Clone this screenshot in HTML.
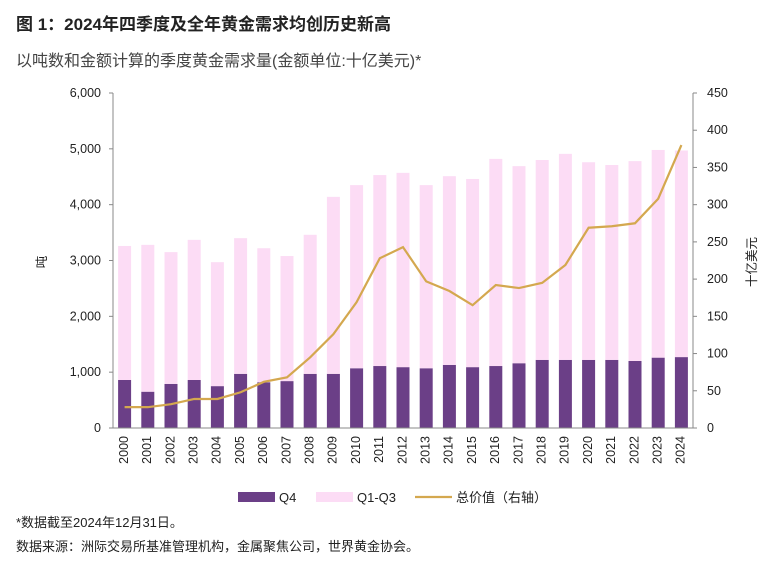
<!DOCTYPE html>
<html><head><meta charset="utf-8">
<style>
body{margin:0;background:#fff;font-family:"Liberation Sans","Noto Sans CJK SC",sans-serif;}
#wrap{position:relative;width:778px;height:576px;overflow:hidden;}
.t{position:absolute;white-space:nowrap;color:#222;}
</style></head><body>
<div id="wrap">
<div class="t" style="left:16px;top:10px;font-size:17px;font-weight:bold;">图 1：2024年四季度及全年黄金需求均创历史新高</div>
<div class="t" style="left:16px;top:47px;font-size:16px;color:#444;">以吨数和金额计算的季度黄金需求量(金额单位:十亿美元)*</div>
<svg id="chart" width="778" height="576" style="position:absolute;left:0;top:0"></svg>
<div class="t" style="left:16px;top:512px;font-size:13px;">*数据截至2024年12月31日。</div>
<div class="t" style="left:16px;top:536px;font-size:13px;">数据来源：洲际交易所基准管理机构，金属聚焦公司，世界黄金协会。</div>
</div>
<script>
const years=["2000","2001","2002","2003","2004","2005","2006","2007","2008","2009","2010","2011","2012","2013","2014","2015","2016","2017","2018","2019","2020","2021","2022","2023","2024"];
const q4=[860,650,790,860,750,970,820,840,970,970,1070,1110,1090,1070,1130,1090,1110,1160,1220,1220,1220,1220,1200,1260,1270];
const q1q3=[2400,2630,2360,2510,2220,2430,2400,2240,2490,3170,3280,3420,3480,3280,3380,3370,3710,3530,3580,3690,3540,3490,3580,3720,3700];
const value=[28,28,32,39,39,48,62,68,95,126,169,228,243,197,184,165,192,188,195,219,269,271,275,308,380];
const leftTicks=[0,1000,2000,3000,4000,5000,6000];
const rightTicks=[0,50,100,150,200,250,300,350,400,450];
const svg=document.getElementById('chart');const NS="http://www.w3.org/2000/svg";
const X0=113,X1=693,Y0=428,Y1=93;
const yL=v=>Y0-(v/6000)*(Y0-Y1);
const yR=v=>Y0-(v/450)*(Y0-Y1);
const step=(X1-X0)/years.length;
const xC=i=>X0+step*(i+0.5);
function mk(t,a,txt){const e=document.createElementNS(NS,t);for(const k in a)e.setAttribute(k,a[k]);if(txt!==undefined)e.textContent=txt;svg.appendChild(e);return e;}
const bw=13;
years.forEach((y,i)=>{
 const b=mk('rect',{x:xC(i)-bw/2,y:yL(q4[i]),width:bw,height:Y0-yL(q4[i]),fill:'#6b3f87'});
 
 
 const p=mk('rect',{x:xC(i)-bw/2,y:yL(q4[i]+q1q3[i]),width:bw,height:yL(q4[i])-yL(q4[i]+q1q3[i]),fill:'#fcdcf5'});
 
 
 const l=mk('text',{x:0,y:0,'font-size':12.5,fill:'#222','text-anchor':'end','dominant-baseline':'middle',transform:`translate(${xC(i)},${Y0+8}) rotate(-90)`},y);
 
 
});
const line=mk('polyline',{points:value.map((v,i)=>xC(i)+','+yR(v)).join(' '),fill:'none',stroke:'#d4a84f','stroke-width':2.2});


mk('line',{x1:X0,y1:Y1,x2:X0,y2:Y0,stroke:'#888'});
mk('line',{x1:X1,y1:Y1,x2:X1,y2:Y0,stroke:'#888'});
mk('line',{x1:X0,y1:Y0,x2:X1,y2:Y0,stroke:'#888'});
leftTicks.forEach(v=>{mk('line',{x1:X0-4,y1:yL(v),x2:X0,y2:yL(v),stroke:'#888'});
 const t=mk('text',{x:X0-12,y:yL(v)+4,'font-size':12.5,fill:'#222','text-anchor':'end'},v.toLocaleString('en-US'));
 
 });
rightTicks.forEach(v=>{mk('line',{x1:X1,y1:yR(v),x2:X1+4,y2:yR(v),stroke:'#888'});
 const t=mk('text',{x:X1+14,y:yR(v)+4,'font-size':12.5,fill:'#222'},String(v));
 
 });
const yt=mk('text',{x:0,y:0,'font-size':12.5,fill:'#222','text-anchor':'middle',transform:'translate(46,262) rotate(-90)'},'吨');


const yt2=mk('text',{x:0,y:0,'font-size':12.5,fill:'#222','text-anchor':'middle',transform:'translate(756,262) rotate(-90)'},'十亿美元');


const lg=[['rect','#6b3f87','Q4',238],['rect','#fcdcf5','Q1-Q3',316],['line','#d4a84f','总价值（右轴）',415]];
lg.forEach(([k,c,txt,x])=>{
 if(k==='rect')mk('rect',{x:x,y:492,width:37,height:10,fill:c});
 else mk('line',{x1:x,y1:497,x2:x+37,y2:497,stroke:c,'stroke-width':2.2});
 const t=mk('text',{x:x+41,y:502,'font-size':13,fill:'#222'},txt);
 
 
});
</script>
</body></html>
